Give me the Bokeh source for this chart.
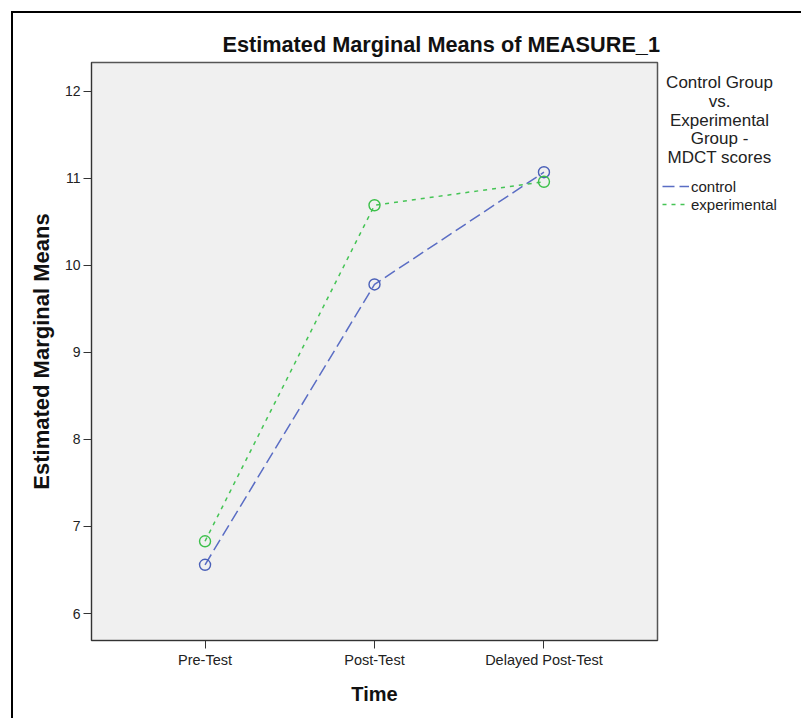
from bokeh.plotting import figure
from bokeh.layouts import row
from bokeh.models import (Range1d, FixedTicker, Label, Legend, LegendItem,
                          ColumnDataSource)
from bokeh.embed import file_html
from bokeh.resources import INLINE

# Estimated marginal means by time point
times = ["Pre-Test", "Post-Test", "Delayed Post-Test"]
control = [6.56, 9.78, 11.07]
experimental = [6.83, 10.69, 10.96]
y_ticks = [6, 7, 8, 9, 10, 11, 12]
series_names = ["control", "experimental"]
legend_heading = ["Control Group", "vs.", "Experimental", "Group -", "MDCT scores"]

FONT = "Liberation Sans"
BLUE_LINE = "#5A6DC4"
BLUE = "#4A60B8"
GREEN_LINE = "#45C455"
GREEN = "#3CC04A"
BLUE_DASH = "12 5"
GREEN_DASH = "4 5"

H = 718
MAIN_W, SIDE_W = 662, 139
FL, FT, FR, FB = 91, 62, 657, 640  # plot frame edges in canvas pixels

xs = list(range(len(times)))

p = figure(width=MAIN_W, height=H, output_backend="svg", toolbar_location=None,
           x_range=Range1d(-0.67, 2.67), y_range=Range1d(5.69, 12.33),
           min_border_left=FL, min_border_right=MAIN_W - FR,
           min_border_top=FT, min_border_bottom=H - FB)
p.border_fill_color = None
p.background_fill_color = "#F0F0F0"
p.outline_line_color = "#555555"
p.outline_line_width = 1.5
p.grid.visible = False

p.title.text = "Estimated Marginal Means of MEASURE_1"
p.title.align = "left"
p.title.offset = 131
p.title.standoff = 12
p.title.text_font = FONT
p.title.text_font_size = "21.7px"
p.title.text_font_style = "bold"
p.title.text_color = "#111111"

# axes
p.xaxis.ticker = FixedTicker(ticks=xs)
p.xaxis.major_label_overrides = {i: t for i, t in enumerate(times)}
p.yaxis.ticker = FixedTicker(ticks=y_ticks)
for ax in (p.xaxis, p.yaxis):
    ax.minor_tick_line_color = None
    ax.major_tick_in = 0
    ax.major_tick_out = 8
    ax.major_tick_line_color = "#333333"
    ax.axis_line_color = "#333333"
    ax.major_label_text_font = FONT
    ax.major_label_text_color = "#222222"
    ax.axis_label_text_font = FONT
    ax.axis_label_text_font_style = "bold"
    ax.axis_label_text_color = "#111111"
p.xaxis.major_label_text_font_size = "14.5px"
p.yaxis.major_label_text_font_size = "14px"
p.xaxis.major_label_standoff = 3
p.yaxis.major_label_standoff = 3
p.xaxis.axis_label = "Time"
p.yaxis.axis_label = "Estimated Marginal Means"
p.xaxis.axis_label_text_font_size = "20px"
p.yaxis.axis_label_text_font_size = "22px"
p.xaxis.axis_label_standoff = 12
p.yaxis.axis_label_standoff = 8

src = ColumnDataSource(dict(x=xs, control=control, experimental=experimental))

p.line("x", "control", source=src, line_color=BLUE_LINE, line_width=1.5,
       line_dash=BLUE_DASH)
p.line("x", "experimental", source=src, line_color=GREEN_LINE, line_width=1.5,
       line_dash=GREEN_DASH)
p.scatter("x", "control", source=src, marker="circle", size=11,
          fill_color=None, line_color=BLUE, line_width=1.4)
p.scatter("x", "experimental", source=src, marker="circle", size=11,
          fill_color=None, line_color=GREEN, line_width=1.4)

# side panel holding the legend; its frame lines up with the main frame,
# so its data units are canvas pixels (x from the panel's left edge)
side = figure(width=SIDE_W, height=H, output_backend="svg",
              toolbar_location=None, x_axis_type=None, y_axis_type=None,
              x_range=Range1d(0, SIDE_W), y_range=Range1d(FB, FT),
              min_border=0)
side.border_fill_color = None
side.background_fill_color = None
side.outline_line_color = None
side.grid.visible = False

for i, line in enumerate(legend_heading):
    side.add_layout(Label(x=57, y=82 + i * 18.8, text=line, text_font=FONT,
                          text_font_size="17px", text_align="center",
                          text_baseline="middle", text_color="#222222"))

nan = float("nan")
key_ctrl = side.line([nan], [nan], line_color=BLUE_LINE, line_width=1.5,
                     line_dash=BLUE_DASH)
key_exp = side.line([nan], [nan], line_color=GREEN_LINE, line_width=1.5,
                    line_dash=GREEN_DASH)
legend = Legend(items=[LegendItem(label=series_names[0], renderers=[key_ctrl]),
                       LegendItem(label=series_names[1], renderers=[key_exp])],
                location=(0, FB - 213))
legend.padding = 0
legend.margin = 0
legend.spacing = 0
legend.glyph_width = 27
legend.glyph_height = 18
legend.label_height = 18
legend.label_standoff = 2
legend.label_text_font = FONT
legend.label_text_font_size = "15px"
legend.label_text_color = "#222222"
legend.background_fill_color = None
legend.border_line_color = None
side.add_layout(legend)

layout = row(p, side, spacing=0)
layout.styles = {
    "background": (
        "linear-gradient(#000,#000) 11px 11px / 2px calc(100% - 11px) no-repeat,"
        "linear-gradient(#000,#000) 11px 11px / calc(100% - 11px) 2px no-repeat,"
        "#ffffff"
    )
}

open("out.html", "w").write(file_html(layout, INLINE))
